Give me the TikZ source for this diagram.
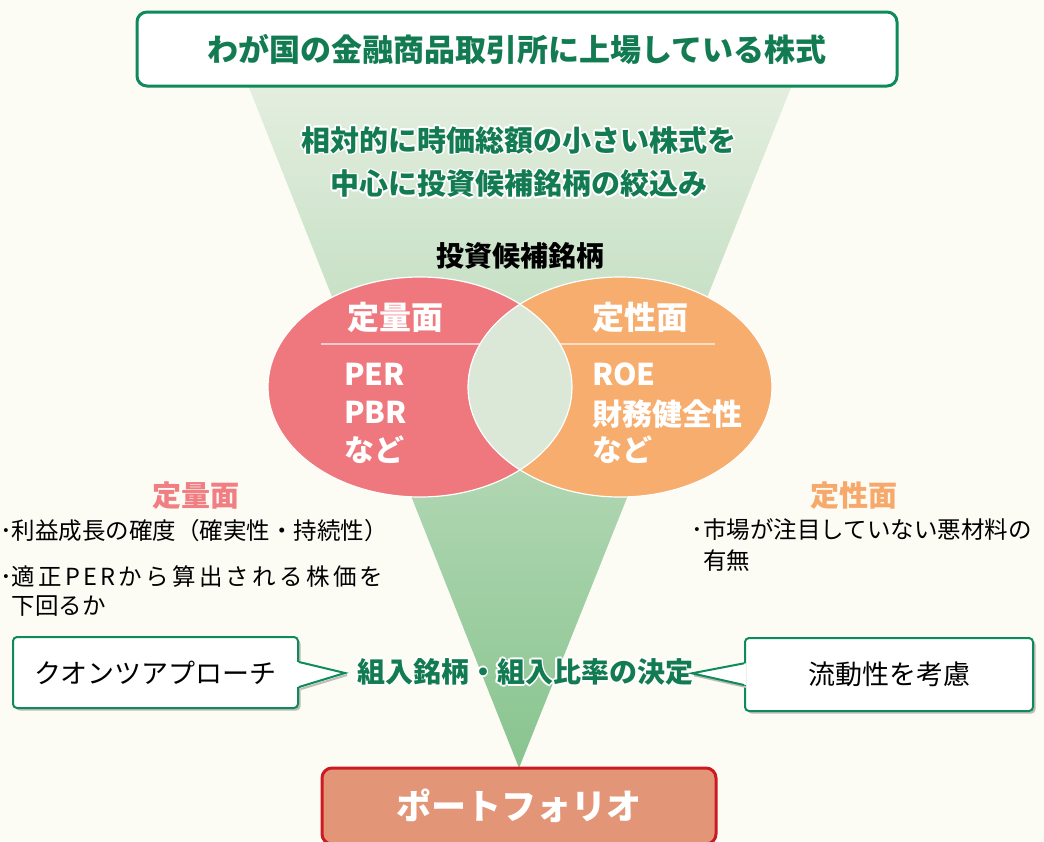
\documentclass[tikz,border=0pt]{standalone}
\usepackage{fontspec}
\setmainfont{Noto Sans CJK JP}
\newfontfamily\jpsp[LetterSpace=14]{Noto Sans CJK JP}
\usetikzlibrary{shadows}
\definecolor{bgc}{HTML}{FCFCF5}
\definecolor{gline}{HTML}{0E8A5C}
\definecolor{gtext}{HTML}{127B52}
\definecolor{funtop}{HTML}{E4EEDF}
\definecolor{funbot}{HTML}{88C48F}
\definecolor{pinkc}{HTML}{EE787D}
\definecolor{orangec}{HTML}{F6AD6E}
\definecolor{lensc}{HTML}{DBE8D8}
\definecolor{pinkt}{HTML}{F07E83}
\definecolor{oranget}{HTML}{F6A96B}
\definecolor{pfill}{HTML}{E39677}
\definecolor{pline}{HTML}{CB1A22}
\definecolor{shadowc}{HTML}{BDBDB5}
\newcommand\halo[1]{%
  \leavevmode
  \foreach \hx/\hy in {1.8/0,-1.8/0,0/1.8,0/-1.8,1.3/1.3,-1.3/1.3,1.3/-1.3,-1.3/-1.3}{%
    \rlap{\kern\hx pt\raisebox{\hy pt}{\textcolor{white}{#1}}}}%
  #1}
\tikzset{
  t/.style={inner sep=0pt, outer sep=0pt},
  bfz/.style={font=\bfseries\fontsize{#1pt}{#1pt}\selectfont},
  rfz/.style={font=\fontsize{#1pt}{#1pt}\selectfont},
  topbox/.style={draw=gline, line width=3pt, fill=white, rounded corners=10pt,
    minimum width=760pt, minimum height=74pt, text=gtext, bfz=31, inner sep=0pt},
  callbox/.style={draw=gline, line width=2pt, fill=white, rounded corners=4pt,
    inner sep=0pt, text=black, rfz=27,
    drop shadow={shadow xshift=2.5pt, shadow yshift=-2.5pt, fill=shadowc, opacity=1}},
  pointer/.style={draw=gline, line width=2pt, line join=miter},
  pshadow/.style={draw=shadowc, line width=2pt},
  pbox/.style={draw=pline, line width=3pt, fill=pfill, rounded corners=10pt,
    minimum width=394pt, minimum height=76pt, text=white, bfz=35, inner sep=0pt},
  halotxt/.style={t, text=gtext, bfz=#1},
  sepline/.style={draw=white, draw opacity=0.6, line width=1.5pt},
  ellline/.style={draw=white, line width=1.2pt},
}
\begin{document}
\begin{tikzpicture}[x=1pt,y=-1pt]
\useasboundingbox (0,0) rectangle (1044,841);
\clip (0,0) rectangle (1044,841);
\fill[bgc] (0,0) rectangle (1044,841);

% funnel (apex at top of the portfolio box)
\coordinate (fl) at (248,85);
\coordinate (fr) at (792,85);
\coordinate (apex) at (519,768);
\shade[top color=funtop, bottom color=funbot] (fl) -- (fr) -- (apex) -- cycle;

% bottom box
\node[pbox] (pf) at (519,806) {ポートフォリオ};

% top box
\node[topbox] (top) at (517,49) {わが国の金融商品取引所に上場している株式};

% narrowing text
\node[halotxt=29] (n1) at (519,140) {\halo{相対的に時価総額の小さい株式を}};
\node[halotxt=29] (n2) at (519,184) {\halo{中心に投資候補銘柄の絞込み}};
\node[t, bfz=28, text=black] (cand) at (520,256) {投資候補銘柄};

% ellipses
\fill[pinkc] (420,387) ellipse [x radius=152pt, y radius=110pt];
\fill[orangec] (620,387) ellipse [x radius=152pt, y radius=110pt];
\begin{scope}
  \clip (420,387) ellipse [x radius=152pt, y radius=110pt];
  \fill[lensc] (620,387) ellipse [x radius=152pt, y radius=110pt];
\end{scope}
\draw[ellline] (420,387) ellipse [x radius=152pt, y radius=110pt];
\draw[ellline] (620,387) ellipse [x radius=152pt, y radius=110pt];
\draw[sepline] (321,344) -- (480,344);
\draw[sepline] (560,344) -- (715,344);

\node[t, bfz=32, text=white] (qt) at (395.5,317.5) {定量面};
\node[t, bfz=30, text=white, anchor=west] (q1) at (344,374.5) {PER};
\node[t, bfz=30, text=white, anchor=west] (q2) at (344,412.5) {PBR};
\node[t, bfz=30, text=white, anchor=west] (q3) at (344,450) {など};

\node[t, bfz=32, text=white] (lt) at (640,317.5) {定性面};
\node[t, bfz=30, text=white, anchor=west] (l1) at (592,374.5) {ROE};
\node[t, bfz=30, text=white, anchor=west] (l2) at (592,414.5) {財務健全性};
\node[t, bfz=30, text=white, anchor=west] (l3) at (592,450) {など};

% side notes
\node[t, bfz=29, text=pinkt] (qh) at (196,495.5) {定量面};
\node[t, rfz=23.5, anchor=west] (qa1) at (0,531) {･利益成長の確度（確実性・持続性）};
\node[t, rfz=23.5, anchor=west] (qa2) at (0,577) {･{\jpsp 適正PERから算出される株価を}};
\node[t, rfz=23.5, anchor=west] (qa3) at (11.75,606) {下回るか};

\node[t, bfz=29, text=oranget] (lh) at (854,495.5) {定性面};
\node[t, rfz=23.5, anchor=west] (la1) at (691.5,530) {･市場が注目していない悪材料の};
\node[t, rfz=23.5, anchor=west] (la2) at (703.3,561) {有無};

% decision text
\node[halotxt=28] (dec) at (525,672) {\halo{組入銘柄・組入比率の決定}};

% callouts
\node[callbox, minimum width=285pt, minimum height=71pt] (qa) at (155.5,672.5) {クオンツアプローチ};
\node[callbox, minimum width=288pt, minimum height=73pt] (liq) at (889,674.5) {流動性を考慮};
\coordinate (qtip) at (345,673);
\coordinate (ltip) at (692,673.3);

\draw[pshadow] ([shift={(2pt,-2pt)}]qtip) -- ([shift={(2pt,-16.5pt)}]qa.east);
\fill[white] ([shift={(-2pt,10.5pt)}]qa.east) -- (qtip) -- ([shift={(-2pt,-14.5pt)}]qa.east) -- cycle;
\draw[pointer] ([yshift=10.5pt]qa.east) -- (qtip) -- ([yshift=-14.5pt]qa.east);

\draw[pshadow] ([shift={(2pt,-2pt)}]ltip) -- ([shift={(2pt,-12.5pt)}]liq.west);
\fill[white] ([shift={(2pt,11.2pt)}]liq.west) -- (ltip) -- ([shift={(2pt,-10.5pt)}]liq.west) -- cycle;
\draw[pointer] ([yshift=11.2pt]liq.west) -- (ltip) -- ([yshift=-10.5pt]liq.west);
\end{tikzpicture}
\end{document}
